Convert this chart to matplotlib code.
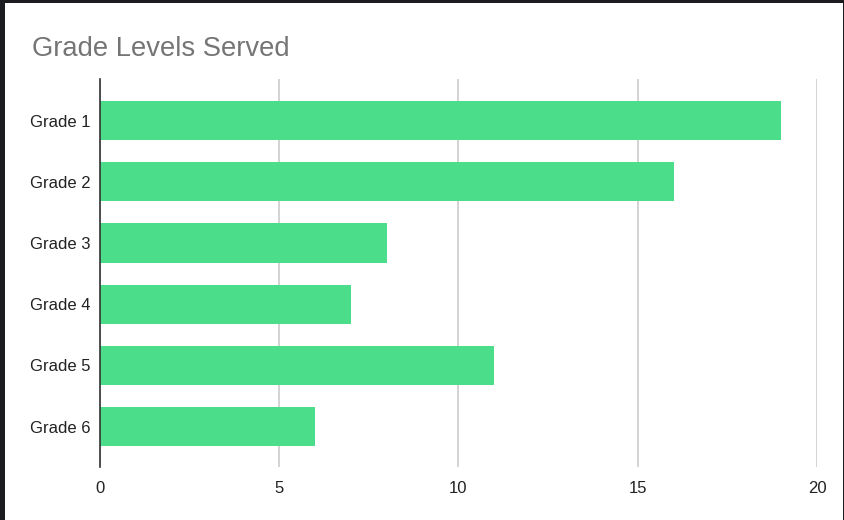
import matplotlib.pyplot as plt
from matplotlib.patches import Rectangle

grades = ["Grade 1", "Grade 2", "Grade 3", "Grade 4", "Grade 5", "Grade 6"]
counts = [19, 16, 8, 7, 11, 6]
x_ticks = [0, 5, 10, 15, 20]

plt.rcParams["font.family"] = ["Liberation Sans", "DejaVu Sans"]

W, H = 845, 520
fig = plt.figure(figsize=(W / 100, H / 100), dpi=100, facecolor="#1b1c1f")
# white card on the dark screenshot background
fig.patches.append(Rectangle((5 / W, 0), (843 - 5) / W, (H - 3) / H,
                             transform=fig.transFigure, facecolor="white",
                             edgecolor="none", zorder=-1))

ax = fig.add_axes([100 / W, 1 - 467 / H, (817 - 100) / W, (467 - 79) / H])
ax.set_facecolor("none")
ax.set_zorder(2)

pos = list(range(len(grades)))
ax.barh(pos, counts, height=0.64, color="#4cdd8b", zorder=3)

ax.set_xlim(0, 20)
ax.set_ylim(len(grades) - 1 + 0.66, -0.68)
ax.set_xticks(x_ticks)
ax.set_xticklabels([str(t) for t in x_ticks])
ax.set_yticks(pos)
ax.set_yticklabels(grades)
ax.tick_params(axis="both", length=0, labelsize=12, colors="#222222")
ax.tick_params(axis="x", pad=10)
ax.tick_params(axis="y", pad=7)

ax.grid(axis="x", color="#cccccc", linewidth=1.2, zorder=1)
for s in ["top", "right", "bottom"]:
    ax.spines[s].set_visible(False)
ax.spines["left"].set_color("#333333")
ax.spines["left"].set_linewidth(1.2)
ax.spines["left"].set_zorder(4)

fig.text(32 / W, 1 - 56 / H, "Grade Levels Served", fontsize=19.7,
         color="#757575", ha="left", va="baseline", zorder=3)

fig.savefig("out.png", dpi=100, facecolor=fig.get_facecolor())
